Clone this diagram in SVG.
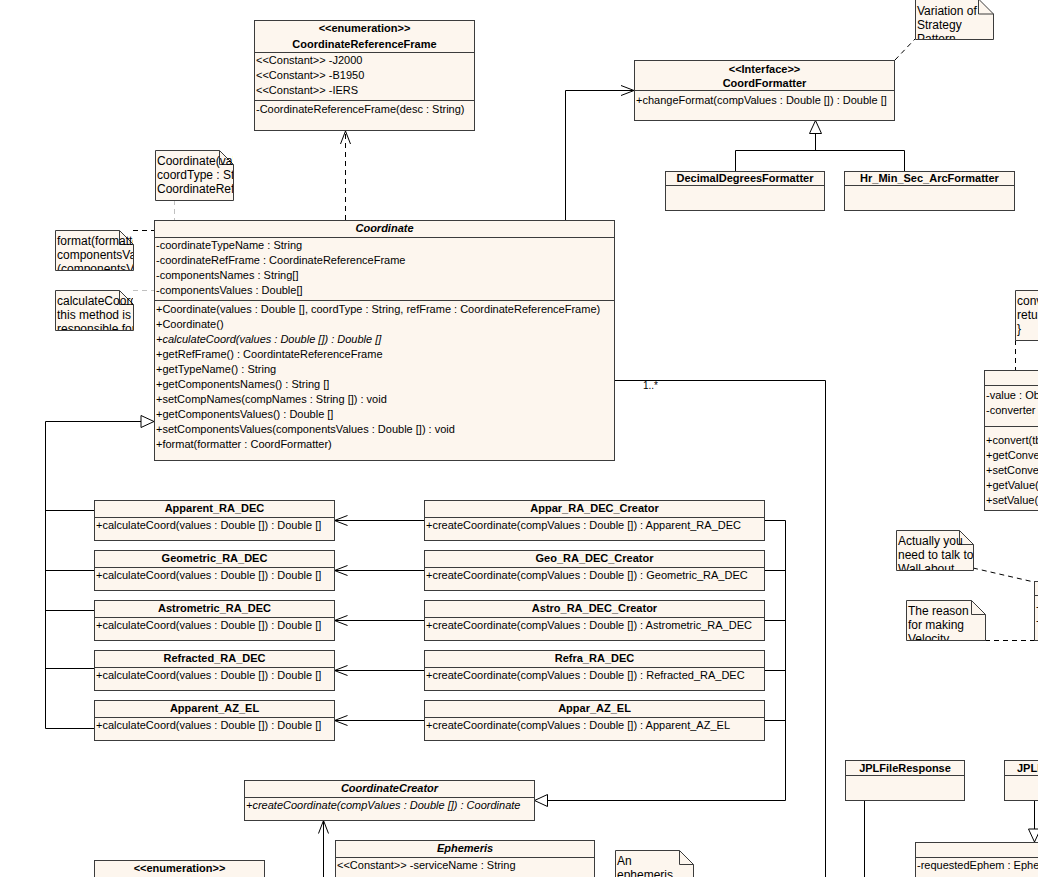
<svg xmlns="http://www.w3.org/2000/svg" width="1038" height="877" viewBox="0 0 1038 877">
<style>
.box{fill:#fdf6ee;stroke:#3c3c3c;stroke-width:1}
.sep{stroke:#3c3c3c;stroke-width:1;fill:none}
.t{font-family:"Liberation Sans",Arial,sans-serif;font-size:11px;fill:#000}
.b{font-weight:bold;text-anchor:middle}
.bi{font-weight:bold;font-style:italic;text-anchor:middle}
.i{font-style:italic}
.nt{font-family:"Liberation Sans",Arial,sans-serif;font-size:12px;fill:#000}
.c{fill:none;stroke:#000;stroke-width:1}
.d{stroke-dasharray:5,4}
.lg{fill:none;stroke:#c0c0c0;stroke-width:1;stroke-dasharray:5,4}
</style>
<defs>
<marker id="open" viewBox="0 0 13 11" refX="13" refY="5.5" markerWidth="13" markerHeight="11" markerUnits="userSpaceOnUse" orient="auto">
<path d="M0,0.5 L13,5.5 L0,10.5" fill="none" stroke="#000" stroke-width="1"/>
</marker>
<marker id="tri" viewBox="0 0 15 14" refX="14" refY="7" markerWidth="15" markerHeight="14" markerUnits="userSpaceOnUse" orient="auto">
<path d="M1,1 L14,7 L1,13 Z" fill="#fff" stroke="#000" stroke-width="1"/>
</marker>
<clipPath id="cn1"><rect x="915" y="0" width="78" height="39"/></clipPath>
<clipPath id="cn2"><rect x="155" y="150" width="78" height="50"/></clipPath>
<clipPath id="cn3"><rect x="55" y="230" width="78" height="40"/></clipPath>
<clipPath id="cn4"><rect x="55" y="290" width="78" height="40"/></clipPath>
<clipPath id="cn5"><rect x="1015" y="290" width="60" height="50"/></clipPath>
<clipPath id="cn6"><rect x="896" y="530" width="77" height="40"/></clipPath>
<clipPath id="cn7"><rect x="906" y="600" width="79" height="40"/></clipPath>
<clipPath id="cn8"><rect x="615" y="850" width="78" height="40"/></clipPath>
</defs>
<rect width="1038" height="877" fill="#fff"/>

<g id="connectors">
<path class="c d" d="M345.5,220 V131" marker-end="url(#open)"/>
<path class="c" d="M565.5,220 V90.5 H634" marker-end="url(#open)"/>
<path class="c d" d="M895,60 L915,39"/>
<path class="c" d="M815.5,150.5 V120.5" marker-end="url(#tri)"/>
<path class="c" d="M735.5,171 V150.5 H904.5 V171"/>
<path class="lg" d="M174.5,200 V220"/>
<path class="c d" d="M133,230.5 H154"/>
<path class="lg" d="M133,290.5 H154"/>
<path class="c" d="M45.5,421.5 H154" marker-end="url(#tri)"/>
<path class="c" d="M45.5,421.5 V728.5 H94 M45.5,510.5 H94 M45.5,570.5 H94 M45.5,610.5 H94 M45.5,668.5 H94"/>
<path class="c" d="M424,520.5 H334.5" marker-end="url(#open)"/>
<path class="c" d="M424,570.5 H334.5" marker-end="url(#open)"/>
<path class="c" d="M424,620.5 H334.5" marker-end="url(#open)"/>
<path class="c" d="M424,670.5 H334.5" marker-end="url(#open)"/>
<path class="c" d="M424,720.5 H334.5" marker-end="url(#open)"/>
<path class="c" d="M764,520.5 H785.5 M764,570.5 H785.5 M764,620.5 H785.5 M764,670.5 H785.5 M764,720.5 H785.5"/>
<path class="c" d="M785.5,520.5 V800.5 H534.5" marker-end="url(#tri)"/>
<path class="c" d="M614,380.5 H825.5 V877"/>
<text class="t" x="643" y="389" style="font-size:10px">1..*</text>
<path class="c" d="M323.5,877 V820.5" marker-end="url(#open)"/>
<path class="c" d="M864.5,800 V877"/>
<path class="c" d="M1034.5,800 V842" marker-end="url(#tri)"/>
<path class="c d" d="M1015.5,340 V370"/>
<path class="c d" d="M973,568 L1034,582"/>
<path class="c d" d="M985,640.5 H1038"/>
</g>

<g id="CoordinateReferenceFrame">
<rect class="box" x="254.5" y="20.5" width="220" height="110"/>
<text class="t b" x="364.5" y="32">&lt;&lt;enumeration&gt;&gt;</text>
<text class="t b" x="364.5" y="48">CoordinateReferenceFrame</text>
<path class="sep" d="M254.5,52.5 H474.5 M254.5,100.5 H474.5"/>
<text class="t" x="256" y="64">&lt;&lt;Constant&gt;&gt; -J2000</text>
<text class="t" x="256" y="79">&lt;&lt;Constant&gt;&gt; -B1950</text>
<text class="t" x="256" y="94">&lt;&lt;Constant&gt;&gt; -IERS</text>
<text class="t" x="256" y="113">-CoordinateReferenceFrame(desc : String)</text>
</g>

<g id="CoordFormatter">
<rect class="box" x="634.5" y="60.5" width="260" height="60"/>
<text class="t b" x="764.5" y="73">&lt;&lt;Interface&gt;&gt;</text>
<text class="t b" x="764.5" y="87">CoordFormatter</text>
<path class="sep" d="M634.5,90.5 H894.5"/>
<text class="t" x="636" y="104">+changeFormat(compValues : Double []) : Double []</text>
</g>

<g id="DecimalDegreesFormatter">
<rect class="box" x="665.5" y="171.5" width="159" height="39"/>
<text class="t b" x="745" y="182">DecimalDegreesFormatter</text>
<path class="sep" d="M665.5,185.5 H824.5"/>
</g>

<g id="Hr_Min_Sec_ArcFormatter">
<rect class="box" x="844.5" y="171.5" width="170" height="39"/>
<text class="t b" x="929.5" y="182">Hr_Min_Sec_ArcFormatter</text>
<path class="sep" d="M844.5,185.5 H1014.5"/>
</g>

<g id="note-strategy">
<path class="box" d="M915.5,-1 H978.5 L993.5,14 V39.5 H915.5 Z"/>
<path class="sep" d="M978.5,-1 V14 H993.5"/>
<g clip-path="url(#cn1)">
<text class="nt" x="917" y="15">Variation of</text>
<text class="nt" x="917" y="29">Strategy</text>
<text class="nt" x="917" y="43">Pattern</text>
</g>
</g>

<g id="note-constructor">
<path class="box" d="M155.5,150.5 H219.5 L233.5,164.5 V200.5 H155.5 Z"/>
<path class="sep" d="M219.5,150.5 V164.5 H233.5"/>
<g clip-path="url(#cn2)">
<text class="nt" x="157" y="165">Coordinate(values : Double [],</text>
<text class="nt" x="157" y="179">coordType : String,</text>
<text class="nt" x="157" y="193">CoordinateReferenceFrame</text>
</g>
</g>

<g id="note-format">
<path class="box" d="M55.5,230.5 H119.5 L133.5,244.5 V270.5 H55.5 Z"/>
<path class="sep" d="M119.5,230.5 V244.5 H133.5"/>
<g clip-path="url(#cn3)">
<text class="nt" x="57" y="245">format(formatter)</text>
<text class="nt" x="57" y="259">componentsValues</text>
<text class="nt" x="57" y="273">(componentsValues)</text>
</g>
</g>

<g id="note-calculate">
<path class="box" d="M55.5,290.5 H119.5 L133.5,304.5 V330.5 H55.5 Z"/>
<path class="sep" d="M119.5,290.5 V304.5 H133.5"/>
<g clip-path="url(#cn4)">
<text class="nt" x="57" y="305">calculateCoord()</text>
<text class="nt" x="57" y="319">this method is</text>
<text class="nt" x="57" y="333">responsible for</text>
</g>
</g>

<g id="Coordinate">
<rect class="box" x="154.5" y="220.5" width="460" height="240"/>
<text class="t bi" x="384.5" y="232">Coordinate</text>
<path class="sep" d="M154.5,237.5 H614.5 M154.5,300.5 H614.5"/>
<text class="t" x="156" y="249">-coordinateTypeName : String</text>
<text class="t" x="156" y="264">-coordinateRefFrame : CoordinateReferenceFrame</text>
<text class="t" x="156" y="279">-componentsNames : String[]</text>
<text class="t" x="156" y="294">-componentsValues : Double[]</text>
<text class="t" x="156" y="313">+Coordinate(values : Double [], coordType : String, refFrame : CoordinateReferenceFrame)</text>
<text class="t" x="156" y="328">+Coordinate()</text>
<text class="t i" x="156" y="343">+calculateCoord(values : Double []) : Double []</text>
<text class="t" x="156" y="358">+getRefFrame() : CoordintateReferenceFrame</text>
<text class="t" x="156" y="373">+getTypeName() : String</text>
<text class="t" x="156" y="388">+getComponentsNames() : String []</text>
<text class="t" x="156" y="403">+setCompNames(compNames : String []) : void</text>
<text class="t" x="156" y="418">+getComponentsValues() : Double []</text>
<text class="t" x="156" y="433">+setComponentsValues(componentsValues : Double []) : void</text>
<text class="t" x="156" y="448">+format(formatter : CoordFormatter)</text>
</g>

<g id="note-conv">
<path class="box" d="M1015.5,290.5 H1060 V340.5 H1015.5 Z"/>
<g clip-path="url(#cn5)">
<text class="nt" x="1017" y="305">conv</text>
<text class="nt" x="1017" y="319">retu</text>
<text class="nt" x="1017" y="333">}</text>
</g>
</g>

<g id="Converter">
<rect class="box" x="984.5" y="370.5" width="80" height="140"/>
<path class="sep" d="M984.5,385.5 H1064 M984.5,426.5 H1064"/>
<text class="t" x="986" y="399">-value : Ob</text>
<text class="t" x="986" y="414">-converter</text>
<text class="t" x="986" y="444">+convert(tb</text>
<text class="t" x="986" y="459">+getConve</text>
<text class="t" x="986" y="474">+setConve</text>
<text class="t" x="986" y="489">+getValue(</text>
<text class="t" x="986" y="504">+setValue(</text>
</g>

<g id="note-actually">
<path class="box" d="M896.5,530.5 H959.5 L973.5,544.5 V570.5 H896.5 Z"/>
<path class="sep" d="M959.5,530.5 V544.5 H973.5"/>
<g clip-path="url(#cn6)">
<text class="nt" x="898" y="545">Actually you</text>
<text class="nt" x="898" y="559">need to talk to</text>
<text class="nt" x="898" y="573">Wall about</text>
</g>
</g>

<g id="note-reason">
<path class="box" d="M906.5,600.5 H971.5 L985.5,614.5 V640.5 H906.5 Z"/>
<path class="sep" d="M971.5,600.5 V614.5 H985.5"/>
<g clip-path="url(#cn7)">
<text class="nt" x="908" y="615">The reason</text>
<text class="nt" x="908" y="629">for making</text>
<text class="nt" x="908" y="643">Velocity</text>
</g>
</g>

<g id="Velocity">
<rect class="box" x="1034.5" y="581.5" width="30" height="59"/>
<path class="sep" d="M1034.5,595.5 H1064"/>
<text class="t" x="1036" y="610">-</text>
<text class="t" x="1036" y="624">-</text>
</g>

<g id="Apparent_RA_DEC">
<rect class="box" x="94.5" y="500.5" width="240" height="40"/>
<text class="t b" x="214.5" y="512">Apparent_RA_DEC</text>
<path class="sep" d="M94.5,517.5 H334.5"/>
<text class="t" x="96" y="529">+calculateCoord(values : Double []) : Double []</text>
</g>
<g id="Geometric_RA_DEC">
<rect class="box" x="94.5" y="550.5" width="240" height="40"/>
<text class="t b" x="214.5" y="562">Geometric_RA_DEC</text>
<path class="sep" d="M94.5,567.5 H334.5"/>
<text class="t" x="96" y="579">+calculateCoord(values : Double []) : Double []</text>
</g>
<g id="Astrometric_RA_DEC">
<rect class="box" x="94.5" y="600.5" width="240" height="40"/>
<text class="t b" x="214.5" y="612">Astrometric_RA_DEC</text>
<path class="sep" d="M94.5,617.5 H334.5"/>
<text class="t" x="96" y="629">+calculateCoord(values : Double []) : Double []</text>
</g>
<g id="Refracted_RA_DEC">
<rect class="box" x="94.5" y="650.5" width="240" height="40"/>
<text class="t b" x="214.5" y="662">Refracted_RA_DEC</text>
<path class="sep" d="M94.5,667.5 H334.5"/>
<text class="t" x="96" y="679">+calculateCoord(values : Double []) : Double []</text>
</g>
<g id="Apparent_AZ_EL">
<rect class="box" x="94.5" y="700.5" width="240" height="40"/>
<text class="t b" x="214.5" y="712">Apparent_AZ_EL</text>
<path class="sep" d="M94.5,717.5 H334.5"/>
<text class="t" x="96" y="729">+calculateCoord(values : Double []) : Double []</text>
</g>

<g id="Appar_RA_DEC_Creator">
<rect class="box" x="424.5" y="500.5" width="340" height="40"/>
<text class="t b" x="594.5" y="512">Appar_RA_DEC_Creator</text>
<path class="sep" d="M424.5,517.5 H764.5"/>
<text class="t" x="426" y="529">+createCoordinate(compValues : Double []) : Apparent_RA_DEC</text>
</g>
<g id="Geo_RA_DEC_Creator">
<rect class="box" x="424.5" y="550.5" width="340" height="40"/>
<text class="t b" x="594.5" y="562">Geo_RA_DEC_Creator</text>
<path class="sep" d="M424.5,567.5 H764.5"/>
<text class="t" x="426" y="579">+createCoordinate(compValues : Double []) : Geometric_RA_DEC</text>
</g>
<g id="Astro_RA_DEC_Creator">
<rect class="box" x="424.5" y="600.5" width="340" height="40"/>
<text class="t b" x="594.5" y="612">Astro_RA_DEC_Creator</text>
<path class="sep" d="M424.5,617.5 H764.5"/>
<text class="t" x="426" y="629">+createCoordinate(compValues : Double []) : Astrometric_RA_DEC</text>
</g>
<g id="Refra_RA_DEC">
<rect class="box" x="424.5" y="650.5" width="340" height="40"/>
<text class="t b" x="594.5" y="662">Refra_RA_DEC</text>
<path class="sep" d="M424.5,667.5 H764.5"/>
<text class="t" x="426" y="679">+createCoordinate(compValues : Double []) : Refracted_RA_DEC</text>
</g>
<g id="Appar_AZ_EL">
<rect class="box" x="424.5" y="700.5" width="340" height="40"/>
<text class="t b" x="594.5" y="712">Appar_AZ_EL</text>
<path class="sep" d="M424.5,717.5 H764.5"/>
<text class="t" x="426" y="729">+createCoordinate(compValues : Double []) : Apparent_AZ_EL</text>
</g>

<g id="CoordinateCreator">
<rect class="box" x="244.5" y="780.5" width="290" height="40"/>
<text class="t bi" x="389.5" y="792">CoordinateCreator</text>
<path class="sep" d="M244.5,797.5 H534.5"/>
<text class="t i" x="246" y="809">+createCoordinate(compValues : Double []) : Coordinate</text>
</g>

<g id="Ephemeris">
<rect class="box" x="335.5" y="840.5" width="259" height="60"/>
<text class="t bi" x="465" y="852">Ephemeris</text>
<path class="sep" d="M335.5,857.5 H594.5"/>
<text class="t" x="337" y="869">&lt;&lt;Constant&gt;&gt; -serviceName : String</text>
</g>

<g id="Enumeration2">
<rect class="box" x="94.5" y="860.5" width="170" height="40"/>
<text class="t b" x="179.5" y="872">&lt;&lt;enumeration&gt;&gt;</text>
</g>

<g id="note-ephemeris">
<path class="box" d="M615.5,850.5 H679.5 L693.5,864.5 V890 H615.5 Z"/>
<path class="sep" d="M679.5,850.5 V864.5 H693.5"/>
<g clip-path="url(#cn8)">
<text class="nt" x="617" y="865">An</text>
<text class="nt" x="617" y="879">ephemeris</text>
</g>
</g>

<g id="JPLFileResponse">
<rect class="box" x="845.5" y="760.5" width="119" height="40"/>
<text class="t b" x="905" y="772">JPLFileResponse</text>
<path class="sep" d="M845.5,775.5 H964.5"/>
</g>

<g id="JPLF">
<rect class="box" x="1004.5" y="760.5" width="60" height="40"/>
<text class="t" x="1017" y="772" style="font-weight:bold">JPLF</text>
<path class="sep" d="M1004.5,775.5 H1064"/>
</g>

<g id="EphemRequest">
<rect class="box" x="915.5" y="842.5" width="150" height="60"/>
<path class="sep" d="M915.5,857.5 H1064"/>
<text class="t" x="917" y="869">-requestedEphem : Ephe</text>
</g>
</svg>
